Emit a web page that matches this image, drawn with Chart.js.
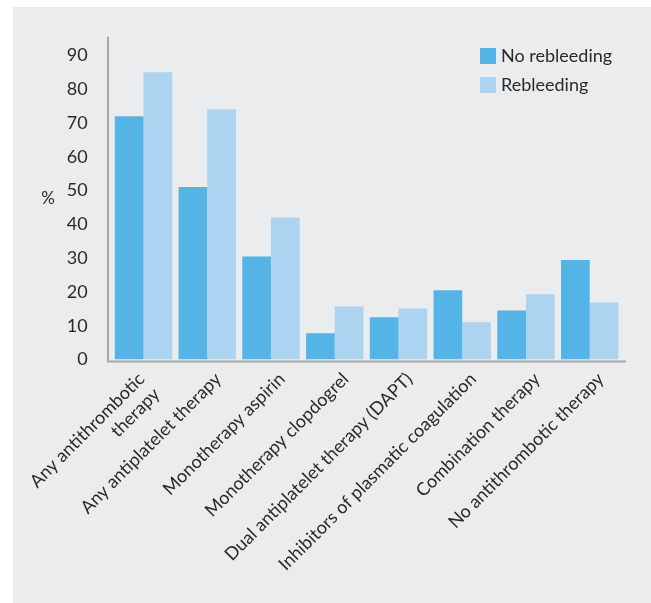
<!DOCTYPE html>
<html>
<head>
<meta charset="utf-8">
<script src="https://cdn.jsdelivr.net/npm/chart.js@4.4.1/dist/chart.umd.min.js"></script>
<style>
  html, body { margin: 0; padding: 0; background: #fff; }
  #panel { position: absolute; left: 13px; top: 7px; width: 638px; height: 596px; background: #ebeced; }
  #wrap { position: absolute; left: 0; top: 0; width: 651px; height: 603px; }
</style>
</head>
<body>
<div id="panel"></div>
<div id="wrap"><canvas id="chart" width="651" height="603"></canvas></div>
<script>
const categories = [
  ['Any antithrombotic', 'therapy'],
  'Any antiplatelet therapy',
  'Monotherapy aspirin',
  'Monotherapy clopdogrel',
  'Dual antiplatelet therapy (DAPT)',
  'Inhibitors of plasmatic coagulation',
  'Combination therapy',
  'No antithrombotic therapy'
];
const noRebleeding = [72, 51, 30.5, 7.8, 12.5, 20.5, 14.5, 29.4];
const rebleeding = [85, 74, 42, 15.7, 15.1, 11, 19.3, 16.9];
const seriesNames = ['No rebleeding', 'Rebleeding'];
const seriesColors = ['#55b4e6', '#acd3ef'];

const textColor = '#2a2a2a';
const fontFamily = 'Lato, "Open Sans", sans-serif';

// the two-line first label sits centred under its bars, not shifted like the others
const firstLabelFix = {
  id: 'firstLabelFix',
  beforeDraw(chart) {
    const items = chart.scales.x.getLabelItems();
    if (items.length && !items[0]._fixed) {
      items[0].options.translation[0] -= 13;
      items[0]._fixed = true;
    }
  }
};

// axis lines, "%" label and legend
const decorations = {
  id: 'decorations',
  afterDatasetsDraw(chart) {
    const { ctx, chartArea } = chart;
    ctx.save();
    ctx.strokeStyle = '#a7a8aa';
    ctx.lineWidth = 2;
    ctx.beginPath();
    ctx.moveTo(108, chartArea.top);
    ctx.lineTo(108, chartArea.bottom + 2);
    ctx.lineTo(626, chartArea.bottom + 2);
    ctx.stroke();

    ctx.fillStyle = textColor;
    ctx.font = '17px ' + fontFamily;
    ctx.textAlign = 'center';
    ctx.textBaseline = 'middle';
    ctx.fillText('%', 48, (chartArea.top + chartArea.bottom) / 2);

    ctx.textAlign = 'left';
    ctx.font = '18px ' + fontFamily;
    chart.data.datasets.forEach((ds, i) => {
      const y = 48 + i * 29;
      ctx.fillStyle = ds.backgroundColor;
      ctx.fillRect(480, y, 16, 16);
      ctx.fillStyle = textColor;
      ctx.fillText(ds.label, 501, y + 8);
    });
    ctx.restore();
  }
};

new Chart(document.getElementById('chart'), {
  type: 'bar',
  data: {
    labels: categories,
    datasets: [
      { label: seriesNames[0], data: noRebleeding, backgroundColor: seriesColors[0] },
      { label: seriesNames[1], data: rebleeding, backgroundColor: seriesColors[1] }
    ]
  },
  options: {
    responsive: false,
    animation: false,
    devicePixelRatio: 1,
    layout: { padding: { top: 36.7, right: 29.4, left: 0, bottom: 0 } },
    plugins: { legend: { display: false }, tooltip: { enabled: false } },
    datasets: { bar: { categoryPercentage: 0.9, barPercentage: 1 } },
    scales: {
      x: {
        grid: { display: false },
        border: { display: false },
        afterFit(scale) { scale.height = 603 - 36.7 - 322.8; },
        ticks: {
          color: textColor,
          font: { family: fontFamily, size: 18 },
          maxRotation: 45,
          minRotation: 45,
          padding: 1,
          labelOffset: 11,
          autoSkip: false
        }
      },
      y: {
        min: 0,
        max: 95.5,
        grid: { display: false },
        border: { display: false },
        afterFit(scale) { scale.width = 111.6; },
        ticks: {
          stepSize: 10,
          includeBounds: false,
          color: textColor,
          font: { family: fontFamily, size: 18 },
          padding: 16
        }
      }
    }
  },
  plugins: [firstLabelFix, decorations]
});
</script>
</body>
</html>
